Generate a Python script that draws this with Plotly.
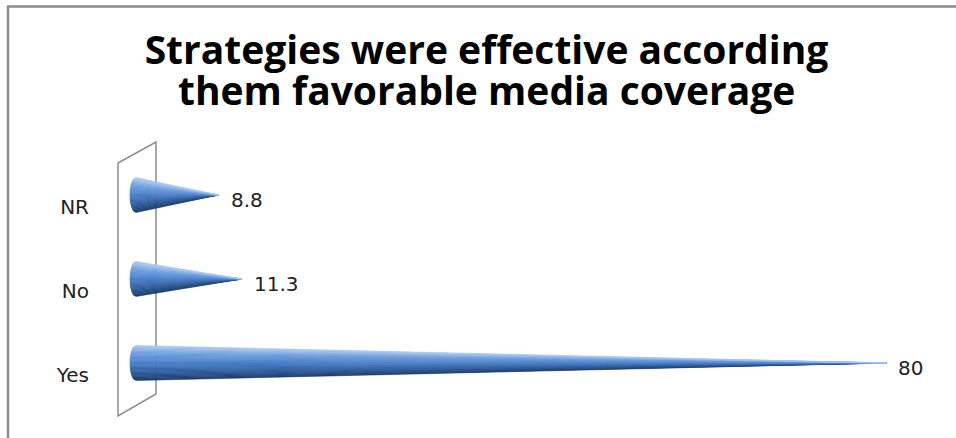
import numpy as np
import plotly.graph_objects as go

# ---- data ----
categories = ["Yes", "No", "NR"]
values = [80, 11.3, 8.8]
value_labels = ["80", "11.3", "8.8"]
title_line1 = "Strategies were effective according"
title_line2 = "them favorable media coverage"

# ---- style ----
R = 0.208      # cone base radius (y units)
CAP = 0.64     # half-width of the visible base ellipse (x units)
NB = 28        # gradient bands
stops = [
    (0.00, (0x1c, 0x3a, 0x66)),
    (0.20, (0x2e, 0x58, 0x96)),
    (0.50, (0x4a, 0x7f, 0xc8)),
    (0.78, (0x6c, 0x9d, 0xde)),
    (1.00, (0xae, 0xca, 0xef)),
]
TITLE_FONT = dict(family="Open Sans", size=39, weight="bold", color="black")


def color_at(t):
    for (t0, c0), (t1, c1) in zip(stops[:-1], stops[1:]):
        if t <= t1:
            f = (t - t0) / (t1 - t0) if t1 > t0 else 0
            c = [round(a + (b - a) * f) for a, b in zip(c0, c1)]
            return "rgb(%d,%d,%d)" % tuple(c)
    return "rgb(%d,%d,%d)" % stops[-1][1]


def cap_x(dy):
    u = min(1.0, abs(dy) / R)
    return -CAP * np.sqrt(max(0.0, 1 - u * u))


fig = go.Figure()

for i in range(NB):
    xs, ys = [], []
    for ci, v in enumerate(values):
        c = ci
        y_lo = c - R + 2 * R * i / NB
        y_hi = c - R + 2 * R * (i + 1) / NB
        y_mid = (y_lo + y_hi) / 2
        pts = [(cap_x(y_lo - c), y_lo), (cap_x(y_mid - c), y_mid),
               (cap_x(y_hi - c), y_hi), (v, c), (cap_x(y_lo - c), y_lo)]
        for px, py in pts:
            xs.append(px)
            ys.append(py)
        xs.append(None)
        ys.append(None)
    col = color_at((i + 0.5) / NB)
    fig.add_trace(go.Scatter(
        x=xs, y=ys, mode="lines", fill="toself", fillcolor=col,
        line=dict(color=col, width=0.6), hoverinfo="skip", showlegend=False))

for ci, (v, lab) in enumerate(zip(values, value_labels)):
    fig.add_annotation(x=v, y=ci, text=lab, showarrow=False, xanchor="left",
                       xshift=10, yshift=-5,
                       font=dict(family="DejaVu Sans", size=20, color="#222222"))

# second title line
fig.add_annotation(text=title_line2, xref="paper", yref="paper",
                   x=(486.5 - 96) / 860, y=1 - 90 / 438, xanchor="center",
                   yanchor="middle", showarrow=False, font=TITLE_FONT)

# back wall
fig.add_shape(type="path", xref="x", yref="y",
              path="M -1.92,2.381 L 2.13,2.631 L 2.13,-0.369 L -1.92,-0.631 Z",
              line=dict(color="#8c8c8c", width=1.5), fillcolor="white", layer="below")

# outer border
fig.add_shape(type="path", xref="paper", yref="paper",
              path="M -0.1023,-0.05 L -0.1023,0.985 L 1.01,0.985",
              line=dict(color="#8c8c8c", width=2.5))

fig.update_layout(
    width=956, height=438,
    margin=dict(l=96, r=0, t=0, b=0, autoexpand=False),
    paper_bgcolor="white", plot_bgcolor="white",
    title=dict(text=title_line1, x=486.5 / 956, xref="container", xanchor="center",
               y=1 - 50 / 438, yref="container", yanchor="middle",
               font=TITLE_FONT, automargin=False),
    xaxis=dict(range=[-4.264, 87.42], visible=False, fixedrange=True,
               automargin=False),
    yaxis=dict(range=[-0.893, 4.321], tickvals=[0, 1, 2], ticktext=categories,
               showgrid=False, zeroline=False, showline=False, ticks="",
               ticklabelshift=12, ticklabelstandoff=6, automargin=False,
               tickfont=dict(family="DejaVu Sans", size=20, color="#222222"),
               fixedrange=True),
)

fig.write_html("out.html", config={"displayModeBar": False},
               post_script="document.body.style.margin='0px';")
